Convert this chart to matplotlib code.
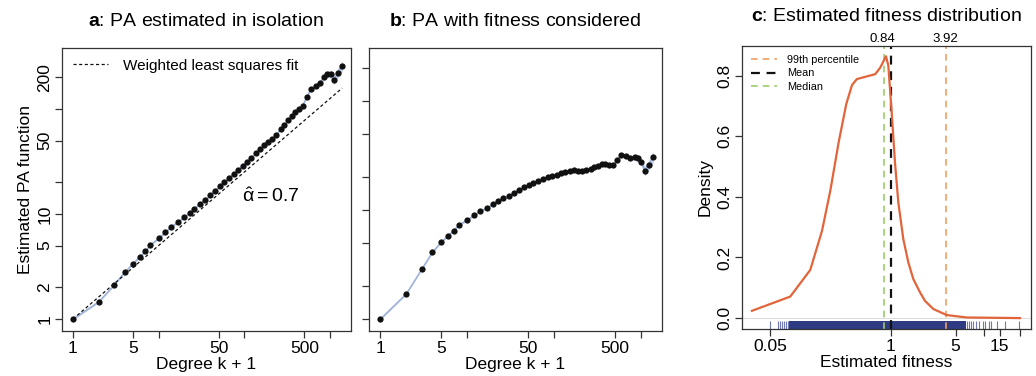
import numpy as np
import matplotlib
matplotlib.use("Agg")
import matplotlib.pyplot as plt
from matplotlib.ticker import FixedLocator, FixedFormatter, NullLocator
import matplotlib.transforms as mtransforms

plt.rcParams['font.family'] = ['Liberation Sans', 'DejaVu Sans']
plt.rcParams['mathtext.fontset'] = 'custom'
plt.rcParams['mathtext.rm'] = 'Liberation Sans'
plt.rcParams['mathtext.bf'] = 'Liberation Sans:bold'
plt.rcParams['mathtext.it'] = 'Liberation Sans'

# Data
degree = [1, 2, 3, 4, 5, 6, 7, 8, 10, 12, 14, 17, 20, 23, 26, 30, 35, 40, 45, 52,
          58, 66, 75, 85, 96, 107, 120, 135, 152, 170, 188, 210, 235, 264, 292, 325,
          356, 390, 430, 477, 535, 595, 680, 755, 846, 930, 1014, 1107, 1232, 1380]

pa_isolation = [1, 1.46, 2.09, 2.78, 3.36, 3.9, 4.41, 5.07, 5.87, 6.7, 7.57, 8.4, 9.36,
                10.3, 11.2, 12.4, 13.6, 15.1, 16.6, 18.3, 20.2, 22.0, 24.2, 26.5, 28.8,
                31.3, 34.1, 37.8, 41.3, 45, 48.2, 51.4, 56.5, 64, 70, 78.5, 86, 94, 99,
                107, 131, 154, 166, 176, 200, 214, 214, 189, 222, 257]

pa_fitness = [1, 1.71, 2.86, 4.12, 5.05, 5.81, 6.46, 7.28, 8.1, 8.94, 9.73, 10.5, 11.35,
              12.2, 12.8, 13.5, 14.4, 15.3, 16.2, 17.0, 17.8, 18.6, 19.4, 20.0, 20.5,
              21.1, 21.7, 22.3, 22.9, 23.3, 22.8, 22.6, 23.1, 23.8, 24.6, 25.5, 26.3,
              26.3, 25.7, 25.7, 28.8, 32.0, 31.3, 30.0, 30.4, 29.8, 27.7, 22.9, 25.9, 30.8]

# relative half-width of the confidence band
band_err = [0.02] * 40 + [0.03, 0.04, 0.05, 0.05, 0.06, 0.07, 0.08, 0.10, 0.10, 0.12]

alpha_hat = 0.7

fitness_x = [0.032, 0.0828, 0.136, 0.182, 0.2235, 0.275, 0.332, 0.383, 0.433, 0.682,
             0.773, 0.89, 0.943, 1.025, 1.112, 1.208, 1.367, 1.548, 1.752, 2.07, 2.34,
             2.88, 4.01, 6.59, 24.7]
density = [0.024, 0.071, 0.159, 0.288, 0.42, 0.58, 0.706, 0.769, 0.789, 0.805, 0.827,
           0.864, 0.833, 0.679, 0.514, 0.382, 0.261, 0.184, 0.129, 0.085, 0.057, 0.030,
           0.010, 0.002, 0.0]

median_fit = 0.84
mean_fit = 1.0
pct99_fit = 3.92

rug_dense = [0.08, 6.5]
rug_sparse = [0.050, 0.061, 0.064, 0.0675, 0.071, 0.0745, 0.078, 6.7, 7.0, 7.4, 7.7,
              8.2, 9.0, 9.8, 10.4, 11.4, 12.1, 14.0, 17.2, 23.9]

pa_ticks = [1, 2, 5, 10, 20, 50, 100, 200]
pa_ticklabels = ['1', '2', '5', '10', '', '50', '', '200']
deg_ticks = [1, 5, 10, 50, 100, 500, 1000]
deg_ticklabels = ['1', '5', '', '50', '', '500', '']
fit_ticks = [0.05, 1, 5, 10, 15, 25]
fit_ticklabels = ['0.05', '1', '5', '', '15', '']
dens_ticks = [0.0, 0.2, 0.4, 0.6, 0.8]

SPINE = '#333333'
LINE_BLUE = '#9aaed4'
BAND_BLUE = '#b9c9e6'
ORANGE = '#e2643a'
LIGHT_ORANGE = '#f0a062'
GREEN = '#9ccc6a'
NAVY = '#2e3b82'


def style_axes(ax):
    for s in ax.spines.values():
        s.set_color(SPINE)
        s.set_linewidth(0.9)
    ax.tick_params(axis='both', which='major', direction='out', length=5,
                   width=0.9, color=SPINE, labelsize=12.5, pad=2)


def pa_panel(ax, values, ylim, label_y):
    ax.set_xscale('log')
    ax.set_yscale('log')
    err = np.array(band_err)
    v = np.array(values)
    ax.fill_between(degree, v * (1 - err), v * (1 + err), color=BAND_BLUE,
                    lw=0, zorder=1)
    ax.plot(degree, values, color=LINE_BLUE, lw=0.9, zorder=2)
    ax.plot(degree, values, 'o', color='#111111', ms=4.5, mec='none', zorder=3)
    ax.set_xlim(0.745, 1750)
    ax.set_ylim(*ylim)
    ax.xaxis.set_major_locator(FixedLocator(deg_ticks))
    ax.xaxis.set_major_formatter(FixedFormatter(deg_ticklabels))
    ax.xaxis.set_minor_locator(NullLocator())
    ax.yaxis.set_major_locator(FixedLocator(pa_ticks))
    ax.yaxis.set_minor_locator(NullLocator())
    if label_y:
        ax.yaxis.set_major_formatter(FixedFormatter(pa_ticklabels))
        for t in ax.get_yticklabels():
            t.set_rotation(90)
            t.set_va('center')
    else:
        ax.yaxis.set_major_formatter(FixedFormatter([''] * len(pa_ticks)))
    ax.set_xlabel('Degree k + 1', fontsize=12.5, labelpad=1)
    style_axes(ax)


def main():
    fig = plt.figure(figsize=(10.36, 3.76), dpi=100)
    ax_a = fig.add_axes([0.0598, 0.1197, 0.279, 0.7527])
    ax_b = fig.add_axes([0.3562, 0.1197, 0.2828, 0.7527])
    ax_c = fig.add_axes([0.7162, 0.125, 0.279, 0.7527])

    # a: PA in isolation
    pa_panel(ax_a, pa_isolation, (0.77, 380), True)
    fit = np.array(degree, dtype=float) ** alpha_hat
    ax_a.plot(degree, fit, color='#111111', lw=0.9, dashes=(2.5, 2), zorder=2,
              label='Weighted least squares fit')
    ax_a.legend(loc='upper left', frameon=False, fontsize=11, handlelength=2.3,
                handletextpad=1.0, borderaxespad=0.3, bbox_to_anchor=(0.0, 1.0))
    ax_a.text(200, 14.6, r'$\hat{\alpha} = 0.7$', fontsize=14, ha='center', va='center')
    ax_a.set_ylabel('Estimated PA function', fontsize=12.5, labelpad=3)
    ax_a.set_title(r'$\mathbf{a}$: PA estimated in isolation', fontsize=14, pad=16)

    # b: PA with fitness
    pa_panel(ax_b, pa_fitness, (0.78, 306), False)
    ax_b.set_title(r'$\mathbf{b}$: PA with fitness considered', fontsize=14, pad=16)

    # c: fitness distribution
    ax = ax_c
    ax.set_xscale('log')
    ax.set_xlim(0.025, 32.5)
    ax.set_ylim(-0.036, 0.898)
    ax.axhline(0, color='#dddddd', lw=0.8, zorder=0)
    trans = mtransforms.blended_transform_factory(ax.transData, ax.transAxes)
    ax.fill_between(rug_dense, 0, 0.03, color=NAVY, transform=trans, lw=0, zorder=1)
    ax.vlines(rug_sparse, 0, 0.03, color='#6f78b3', lw=0.8, transform=trans, zorder=1)
    ax.plot(fitness_x, density, color=ORANGE, lw=1.6, zorder=3)
    ax.axvline(pct99_fit, color=LIGHT_ORANGE, lw=1.2, dashes=(4, 3), zorder=2,
               label='99th percentile')
    ax.axvline(mean_fit, color='#111111', lw=1.6, dashes=(4, 3), zorder=2, label='Mean')
    ax.axvline(median_fit, color=GREEN, lw=1.2, dashes=(4, 3), zorder=2, label='Median')
    ax.text(median_fit * 0.96, 1.004, '%.2f' % median_fit, transform=trans, ha='center',
            va='bottom', fontsize=9.5)
    ax.text(pct99_fit, 1.004, '%.2f' % pct99_fit, transform=trans, ha='center',
            va='bottom', fontsize=9.5)
    ax.legend(loc='upper left', frameon=False, fontsize=7.8, handlelength=2.4,
              handletextpad=1.0, labelspacing=0.35, borderaxespad=0.4)
    ax.xaxis.set_major_locator(FixedLocator(fit_ticks))
    ax.xaxis.set_major_formatter(FixedFormatter(fit_ticklabels))
    ax.xaxis.set_minor_locator(NullLocator())
    ax.yaxis.set_major_locator(FixedLocator(dens_ticks))
    ax.set_yticklabels(['0.0', '0.2', '0.4', '0.6', '0.8'], rotation=90, va='center')
    ax.set_xlabel('Estimated fitness', fontsize=12.5, labelpad=1)
    ax.set_ylabel('Density', fontsize=12.5, labelpad=3)
    ax.set_title(r'$\mathbf{c}$: Estimated fitness distribution', fontsize=14, pad=18)
    style_axes(ax)

    fig.savefig('out.png', dpi=100)


if __name__ == "__main__":
    main()
